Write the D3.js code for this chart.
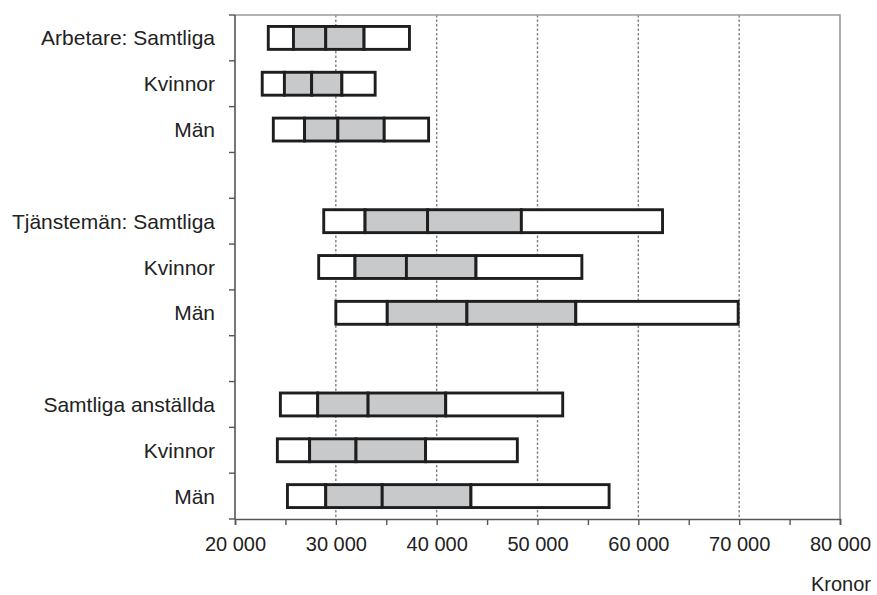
<!DOCTYPE html>
<html>
<head>
<meta charset="utf-8">
<script src="https://cdn.jsdelivr.net/npm/d3@7"></script>
<style>
    body { margin: 0; background: #fff; }
    svg { display: block; font-family: "Liberation Sans", Arial, sans-serif; }
</style>
</head>
<body>
<div id="chart"></div>
<script>
// row labels, top to bottom (three groups of three)
const rowLabels = ["Arbetare: Samtliga", "Kvinnor", "Män",
                   "Tjänstemän: Samtliga", "Kvinnor", "Män",
                   "Samtliga anställda", "Kvinnor", "Män"];
// percentiles, kronor per month
const p10 =    [23300, 22700, 23800, 28800, 28300, 30000, 24500, 24200, 25200];
const p25 =    [25800, 24900, 26900, 32900, 31900, 35100, 28200, 27400, 29000];
const median = [29000, 27600, 30200, 39100, 37000, 43000, 33200, 32000, 34600];
const p75 =    [32800, 30600, 34800, 48400, 43900, 53800, 40900, 38900, 43400];
const p90 =    [37300, 33900, 39200, 62400, 54400, 69900, 52500, 48000, 57100];
const xTicks = [20000, 25000, 30000, 35000, 40000, 45000, 50000, 55000, 60000, 65000, 70000, 75000, 80000];
const xDomain = [20000, 80000];
const xTitle = "Kronor";

function drawChart(parentElem) {
    let margin = {top: 15, right: 37, bottom: 76, left: 235};
    let width = 877 - margin.left - margin.right,
        height = 595 - margin.top - margin.bottom;

    // each group of three rows is followed by an empty slot (not after the last one)
    let slotOf = i => i + Math.floor(i / 3);
    let nSlots = slotOf(rowLabels.length - 1) + 1;

    let xScale = d3.scaleLinear().domain(xDomain).range([0, width]);
    let yScale = d3.scaleBand().domain(d3.range(nSlots)).range([0, height]).paddingInner(0).paddingOuter(0);

    let fmt = d3.formatLocale({decimal: ",", thousands: " ", grouping: [3], currency: ["", ""]}).format(",");

    let svg = d3.select(parentElem).append("svg")
        .attr("width", 877).attr("height", 595);
    let g = svg.append("g").attr("transform", `translate(${margin.left}, ${margin.top})`);

    // dotted grid lines at labelled values
    g.selectAll(".grid")
        .data(xTicks.filter(v => v % 10000 === 0 && v > xDomain[0] && v < xDomain[1]))
        .enter().append("line")
        .attr("class", "grid")
        .attr("x1", d => xScale(d)).attr("x2", d => xScale(d))
        .attr("y1", 0).attr("y2", height)
        .attr("stroke", "#808080").attr("stroke-width", 1.4)
        .attr("stroke-dasharray", "2.5,2");

    // frame top and right
    g.append("path")
        .attr("d", `M0,0H${width}V${height}`)
        .attr("fill", "none").attr("stroke", "#9a9a9a").attr("stroke-width", 1.6);

    // boxes: build segments p10-p25, p25-med, med-p75, p75-p90
    let segs = [];
    rowLabels.forEach((lab, i) => {
        let pts = [p10[i], p25[i], median[i], p75[i], p90[i]];
        for (let k = 0; k < 4; k++) {
            segs.push({row: i, x0: pts[k], x1: pts[k + 1], inner: k === 1 || k === 2});
        }
    });
    let barH = yScale.bandwidth() * 0.5;
    g.selectAll(".seg")
        .data(segs)
        .enter().append("rect")
        .attr("class", "seg")
        .attr("x", d => xScale(d.x0))
        .attr("width", d => xScale(d.x1) - xScale(d.x0))
        .attr("y", d => yScale(slotOf(d.row)) + (yScale.bandwidth() - barH) / 2)
        .attr("height", barH)
        .attr("fill", d => d.inner ? "#c8c9cb" : "#fff")
        .attr("stroke", "#1e1e1e").attr("stroke-width", 2.9);

    // y axis: ticks on slot boundaries, labels centred in slots
    let yTickPos = d3.range(nSlots + 1).map(k => k * yScale.step());
    let yAxisG = g.append("g").attr("class", "axis");
    yAxisG.append("line").attr("x1", 0).attr("x2", 0).attr("y1", 0).attr("y2", height)
        .attr("stroke", "#555").attr("stroke-width", 1.6);
    yAxisG.selectAll(".ytick").data(yTickPos).enter().append("line")
        .attr("class", "ytick")
        .attr("x1", -6).attr("x2", 0).attr("y1", d => d).attr("y2", d => d)
        .attr("stroke", "#555").attr("stroke-width", 1.4);
    yAxisG.selectAll(".ylab").data(rowLabels).enter().append("text")
        .attr("class", "ylab")
        .attr("x", -20)
        .attr("y", (d, i) => yScale(slotOf(i)) + yScale.bandwidth() / 2)
        .attr("dy", "0.36em")
        .attr("text-anchor", "end")
        .style("font-size", "21px")
        .attr("fill", "#222")
        .text(d => d);

    // x axis
    let xAxis = d3.axisBottom(xScale)
        .tickValues(xTicks)
        .tickSize(6)
        .tickPadding(12)
        .tickFormat(d => d % 10000 === 0 ? fmt(d) : "");
    let xAxisG = g.append("g")
        .attr("transform", `translate(0, ${height})`)
        .call(xAxis);
    xAxisG.select(".domain").attr("stroke", "#555").attr("stroke-width", 1.6);
    xAxisG.selectAll(".tick line").attr("stroke", "#555").attr("stroke-width", 1.4);
    xAxisG.selectAll(".tick text")
        .style("font-size", "20px")
        .style("font-family", "'Liberation Sans', Arial, sans-serif")
        .attr("fill", "#222");

    svg.append("text")
        .attr("x", 871).attr("y", 591)
        .attr("text-anchor", "end")
        .style("font-size", "20px")
        .attr("fill", "#222")
        .text(xTitle);
}

drawChart("#chart");
</script>
</body>
</html>
